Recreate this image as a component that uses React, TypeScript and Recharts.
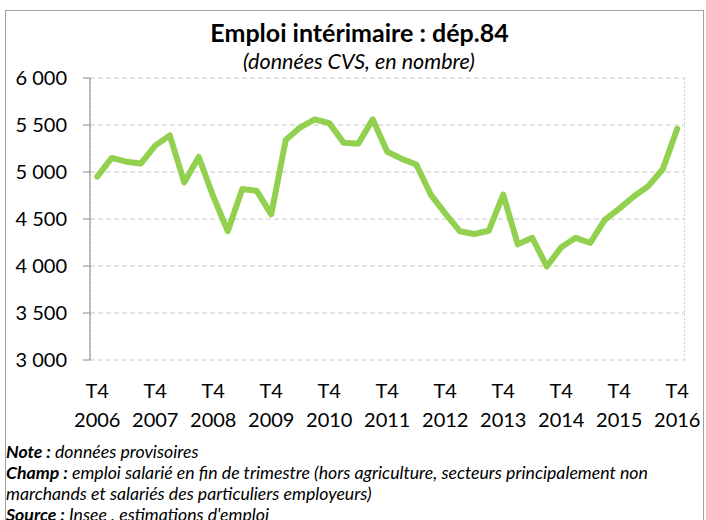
import React from "react";
import { LineChart, Line, XAxis, YAxis, CartesianGrid } from "recharts";

// quarterly values, T4 2006 -> T4 2016
const values = [
  4950, 5150, 5110, 5090, 5280, 5390, 4890, 5160, 4740, 4370, 4820,
  4800, 4550, 5340, 5475, 5560, 5520, 5310, 5300, 5560, 5215,
  5140, 5080, 4760, 4560, 4370, 4340, 4375, 4760, 4230, 4300,
  3995, 4200, 4300, 4245, 4490, 4610, 4740, 4850, 5030, 5460,
];
const tickYears = ["2006", "2007", "2008", "2009", "2010", "2011", "2012", "2013", "2014", "2015", "2016"];
const tickQuarter = "T4";
const yTicks = [3000, 3500, 4000, 4500, 5000, 5500, 6000];

const FONT = "Lato, 'Liberation Sans', sans-serif";

const data = values.map((value, idx) => ({ idx, value }));
const labelTicks = tickYears.map((_, i) => i * 4);
const markTicks = labelTicks.map((t) => t - 0.5);

const fmt = (v: number) => {
  const s = String(v);
  return s.slice(0, s.length - 3) + " " + s.slice(-3);
};

function XTick(props: any) {
  const { x, y, payload } = props;
  const year = tickYears[payload.value / 4];
  return (
    <text x={x} y={y} textAnchor="middle" fill="#000" fontSize={20} fontFamily={FONT}>
      <tspan x={x} dy={38}>{tickQuarter}</tspan>
      <tspan x={x} dy={29}>{year}</tspan>
    </text>
  );
}

export default function App() {
  return (
    <div
      style={{
        position: "absolute",
        left: 0,
        top: 0,
        width: 706,
        height: 520,
        background: "#fff",
        overflow: "hidden",
        fontFamily: FONT,
      }}
    >
      <div
        style={{
          position: "absolute",
          left: 5,
          top: 10,
          width: 697,
          height: 530,
          border: "1px solid #a0a0a0",
        }}
      />
      <div
        style={{
          position: "absolute",
          left: 0,
          width: 719,
          top: 17,
          textAlign: "center",
          fontSize: 25,
          fontWeight: "bold",
          lineHeight: "30px",
        }}
      >
        Emploi intérimaire : dép.84
      </div>
      <div
        style={{
          position: "absolute",
          left: 0,
          width: 718,
          top: 47,
          textAlign: "center",
          fontSize: 21.5,
          fontStyle: "italic",
          lineHeight: "28px",
        }}
      >
        (données CVS, en nombre)
      </div>
      <div style={{ position: "absolute", left: 0, top: 0 }}>
        <LineChart width={706} height={440} data={data} margin={{ top: 78, right: 21.5, left: 0, bottom: 0 }}>
          <CartesianGrid horizontal vertical={false} stroke="#c8c8c8" strokeDasharray="5 3" />
          <CartesianGrid horizontal={false} vertical xAxisId="marks" stroke="#d0d0d0" strokeDasharray="2 2" />
          <YAxis
            width={90}
            domain={[3000, 6000]}
            ticks={yTicks}
            tickFormatter={fmt}
            tickSize={7}
            tickMargin={16}
            interval={0}
            axisLine={{ stroke: "#868686" }}
            tickLine={{ stroke: "#868686" }}
            tick={{ fill: "#000", fontSize: 20, fontFamily: FONT }}
          />
          <XAxis
            xAxisId="marks"
            dataKey="idx"
            type="number"
            domain={[-0.5, values.length - 0.5]}
            ticks={markTicks}
            interval={0}
            height={0}
            tickSize={6}
            tick={false}
            axisLine={{ stroke: "#868686" }}
            tickLine={{ stroke: "#868686" }}
            allowDataOverflow
          />
          <XAxis
            xAxisId="labels"
            dataKey="idx"
            type="number"
            domain={[-0.5, values.length - 0.5]}
            ticks={labelTicks}
            interval={0}
            height={80}
            tickSize={0}
            tickMargin={0}
            axisLine={false}
            tickLine={false}
            tick={<XTick />}
            allowDataOverflow
          />
          <Line
            xAxisId="labels"
            type="linear"
            dataKey="value"
            stroke="#92d050"
            strokeWidth={6}
            strokeLinejoin="round"
            strokeLinecap="round"
            dot={false}
            isAnimationActive={false}
          />
        </LineChart>
      </div>
      <div
        style={{
          position: "absolute",
          left: 6,
          top: 441,
          fontSize: 17.7,
          fontStyle: "italic",
          lineHeight: "21px",
          whiteSpace: "nowrap",
        }}
      >
        <div>
          <b>Note :</b> données provisoires
        </div>
        <div>
          <b>Champ :</b> emploi salarié en fin de trimestre (hors agriculture, secteurs principalement non
        </div>
        <div>marchands et salariés des particuliers employeurs)</div>
        <div>
          <b>Source :</b> Insee , estimations d'emploi
        </div>
      </div>
    </div>
  );
}
